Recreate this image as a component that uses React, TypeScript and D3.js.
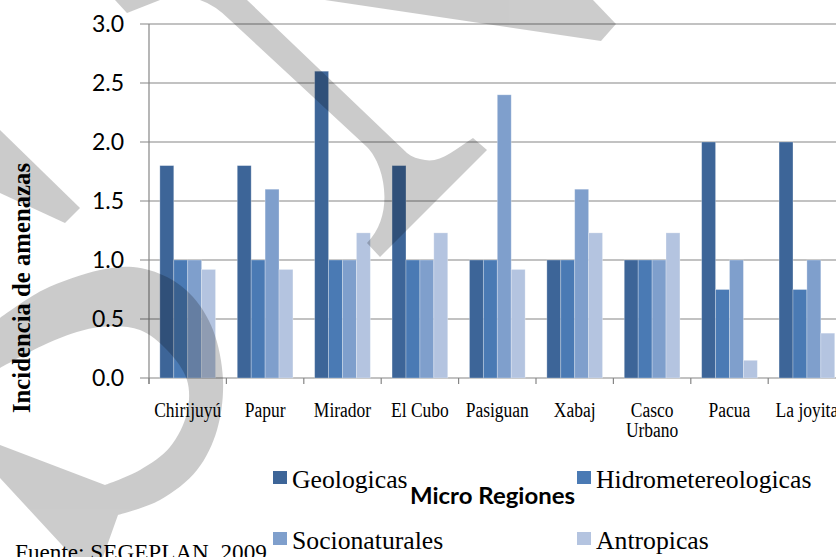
import React from 'react';
import * as d3 from 'd3';

const categories = ['Chirijuyú', 'Papur', 'Mirador', 'El Cubo', 'Pasiguan', 'Xabaj', 'Casco Urbano', 'Pacua', 'La joyita'];
const seriesNames = ['Geologicas', 'Hidrometereologicas', 'Socionaturales', 'Antropicas'];
const geologicas = [1.8, 1.8, 2.6, 1.8, 1.0, 1.0, 1.0, 2.0, 2.0];
const hidrometereologicas = [1.0, 1.0, 1.0, 1.0, 1.0, 1.0, 1.0, 0.75, 0.75];
const socionaturales = [1.0, 1.6, 1.0, 1.0, 2.4, 1.6, 1.0, 1.0, 1.0];
const antropicas = [0.92, 0.92, 1.23, 1.23, 0.92, 1.23, 1.23, 0.15, 0.38];
const seriesColors = ['#3D6598', '#4A7AB4', '#7F9FCC', '#B4C4E0'];
const yTicks = [0, 0.5, 1, 1.5, 2, 2.5, 3];
const yTickLabels = ['0.0', '0.5', '1.0', '1.5', '2.0', '2.5', '3.0'];
const xTitle = 'Micro Regiones';
const yTitle = 'Incidencia de amenazas';
const sourceText = 'Fuente: SEGEPLAN, 2009';

// decorative watermark outline (not data)
const arcOuter: [number, number][] = [[0, 318], [43, 290], [100, 270], [133, 267], [167, 277], [193, 297], [213, 330], [223, 380], [217, 430], [197, 470], [160, 500], [118, 515]];
const arcInner: [number, number][] = [[105, 485], [140, 470], [170, 447], [187, 413], [187, 380], [167, 350], [140, 330], [100, 327], [55, 340], [0, 368]];

export default function App() {
  const W = 836;
  const H = 557;
  const x = d3.scaleBand<string>().domain(categories).range([149, 845.6]).paddingInner(0).paddingOuter(0);
  const xs = d3.scaleBand<string>().domain(seriesNames).range([0, x.bandwidth()]).paddingInner(0).paddingOuter(0.78);
  const y = d3.scaleLinear().domain([0, 3]).range([378, 24]);
  const seriesValues = [geologicas, hidrometereologicas, socionaturales, antropicas];
  const axisColor = '#868686';
  const serif = '"Liberation Serif", "Times New Roman", serif';

  const curve = d3.line().curve(d3.curveCatmullRom.alpha(0.5));
  const outerPath = curve(arcOuter) || '';
  const innerPath = (curve(arcInner) || '').replace(/^M/, 'L');
  const arcPath = outerPath + ' L103,557 L73,557 L0,478 L0,445 ' + innerPath + ' Z';

  const wmPaths = [
    'M200,0 Q215,5 230,20 L367,147 C385,165 395,215 367,243 L380,257 L487,150 L473,138 C455,150 440,163 425,160 C418,159 412,157 407,153 L247,0 Z',
    'M325,0 L593,0 L616,24 L601,41 Z',
    'M115,0 L160,0 L127,13 Z',
    'M0,130 L80,208 L65,223 L0,193 Z',
    arcPath,
  ];

  const boundaries = categories.map((c) => x(c) as number);

  const legendPos = [
    [273, 471],
    [577, 471],
    [273, 532],
    [577, 532],
  ];

  return (
    <svg width={W} height={H} style={{ position: 'absolute', left: 0, top: 0, overflow: 'hidden', background: '#fff' }}>
      <rect x={0} y={0} width={W} height={H} fill="#fff" />
      {/* gridlines + y ticks */}
      {yTicks.map((t) => (
        <line key={'g' + t} x1={140} x2={W + 10} y1={y(t)} y2={y(t)} stroke={axisColor} strokeWidth={1.2} />
      ))}
      {/* y axis */}
      <line x1={149} x2={149} y1={y(3)} y2={384} stroke={axisColor} strokeWidth={1.2} />
      {/* category ticks */}
      {boundaries.map((b, i) => (
        <line key={'t' + i} x1={b} x2={b} y1={y(0)} y2={384} stroke={axisColor} strokeWidth={1.2} />
      ))}
      {/* bars */}
      {categories.map((c, ci) => (
        <g key={c}>
          {seriesNames.map((s, si) => {
            const v = seriesValues[si][ci];
            const bx = (x(c) as number) + (xs(s) as number);
            return (
              <rect
                key={s}
                x={bx}
                y={y(v)}
                width={xs.bandwidth()}
                height={y(0) - y(v)}
                fill={seriesColors[si]}
                stroke="#ffffff"
                strokeOpacity={0.35}
                strokeWidth={0.8}
              />
            );
          })}
        </g>
      ))}
      {/* y tick labels */}
      {yTicks.map((t, i) => (
        <text key={'l' + t} x={124} y={y(t) + 8.3} textAnchor="end" fontFamily="Lato, Calibri, sans-serif" fontSize={23} fill="#000">
          {yTickLabels[i]}
        </text>
      ))}
      {/* x labels */}
      {categories.map((c) => {
        const cx = (x(c) as number) + x.bandwidth() / 2;
        const lines = c.length > 10 ? c.split(' ') : [c];
        return (
          <text key={'x' + c} transform={`translate(${cx},417) scale(1,1.14)`} textAnchor="middle" fontFamily={serif} fontSize={17.5} fill="#000">
            {lines.map((ln, li) => (
              <tspan key={li} x={0} dy={li === 0 ? 0 : 17.6}>
                {ln}
              </tspan>
            ))}
          </text>
        );
      })}
      {/* y title */}
      <text
        transform="translate(30,288) rotate(-90)"
        textAnchor="middle"
        fontFamily={serif}
        fontWeight="bold"
        fontSize={25.5}
        textLength={250}
        lengthAdjust="spacingAndGlyphs"
        fill="#000"
      >
        {yTitle}
      </text>
      {/* legend */}
      {seriesNames.map((s, i) => (
        <g key={'lg' + s}>
          <rect x={legendPos[i][0]} y={legendPos[i][1]} width={14} height={13} fill={seriesColors[i]} />
          <text x={legendPos[i][0] + 19} y={legendPos[i][1] + 17} fontFamily={serif} fontSize={25.7} fill="#000">
            {s}
          </text>
        </g>
      ))}
      {/* x title */}
      <text x={492.5} y={504} textAnchor="middle" fontFamily="Lato, Calibri, sans-serif" fontWeight="bold" fontSize={23.5} textLength={165} lengthAdjust="spacingAndGlyphs" fill="#000">
        {xTitle}
      </text>
      {/* source */}
      <text x={15} y={560} fontFamily={serif} fontSize={23.2} fill="#000">
        {sourceText}
      </text>
      {/* watermark */}
      <g opacity={0.2}>
        {wmPaths.map((d, i) => (
          <path key={'wm' + i} d={d} fill="#000" />
        ))}
      </g>
    </svg>
  );
}
